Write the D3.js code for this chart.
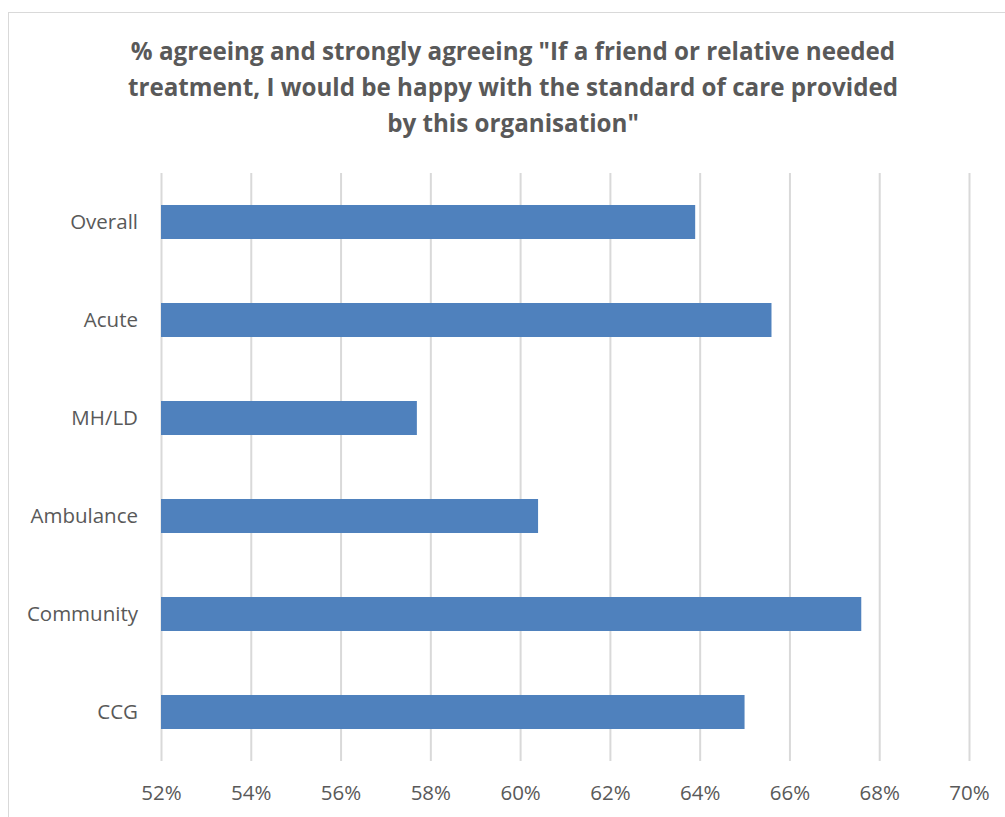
<!DOCTYPE html>
<html><head><meta charset="utf-8">
<script src="https://cdn.jsdelivr.net/npm/d3@7"></script>
<style>body{margin:0;background:#fff;} svg{display:block;}</style>
</head><body>
<script>
const categories = ["Overall","Acute","MH/LD","Ambulance","Community","CCG"];
const values = [63.9, 65.6, 57.7, 60.4, 67.6, 65.0];
const tickValues = [52,54,56,58,60,62,64,66,68,70];
const titleLines = ['% agreeing and strongly agreeing "If a friend or relative needed',
  'treatment, I would be happy with the standard of care provided',
  'by this organisation"'];

const W=1005,H=817;
const svg=d3.select("body").append("svg").attr("width",W).attr("height",H);
svg.append("rect").attr("x",8.5).attr("y",12.5).attr("width",1100).attr("height",900)
  .attr("fill","#fff").attr("stroke","#D9D9D9").attr("stroke-width",1);

const x=d3.scaleLinear().domain([52,70]).range([161,969]);
const y=d3.scaleBand().domain(categories).range([173,761]).paddingInner(0.653).paddingOuter(0.3265);

const font="'Open Sans', sans-serif";
svg.append("g").selectAll("text").data(titleLines).join("text")
  .attr("x",513).attr("y",(d,i)=>60+i*36).attr("text-anchor","middle")
  .attr("font-family",font).attr("font-weight","bold").attr("font-size",24.2)
  .attr("fill","#595959").text(d=>d);

const xAxis=d3.axisBottom(x).tickValues(tickValues).tickSize(-(761-173)).tickFormat(d=>d+"%").tickPadding(24);
const gx=svg.append("g").attr("transform","translate(0,761)").call(xAxis);
gx.select(".domain").remove();
gx.selectAll(".tick line").attr("stroke","#D9D9D9").attr("stroke-width",2);
gx.selectAll(".tick text").attr("font-family",font).attr("font-size",20.5).attr("fill","#595959");

svg.append("g").selectAll("rect").data(values).join("rect")
  .attr("x",x(52)).attr("y",(d,i)=>y(categories[i]))
  .attr("width",d=>x(d)-x(52)).attr("height",y.bandwidth())
  .attr("fill","#4F81BD");

const yAxis=d3.axisLeft(y).tickSize(0).tickPadding(23);
const gy=svg.append("g").attr("transform","translate(161,0)").call(yAxis);
gy.select(".domain").remove();
gy.selectAll(".tick text").attr("font-family",font).attr("font-size",20.5).attr("fill","#595959");
</script>
</body></html>
